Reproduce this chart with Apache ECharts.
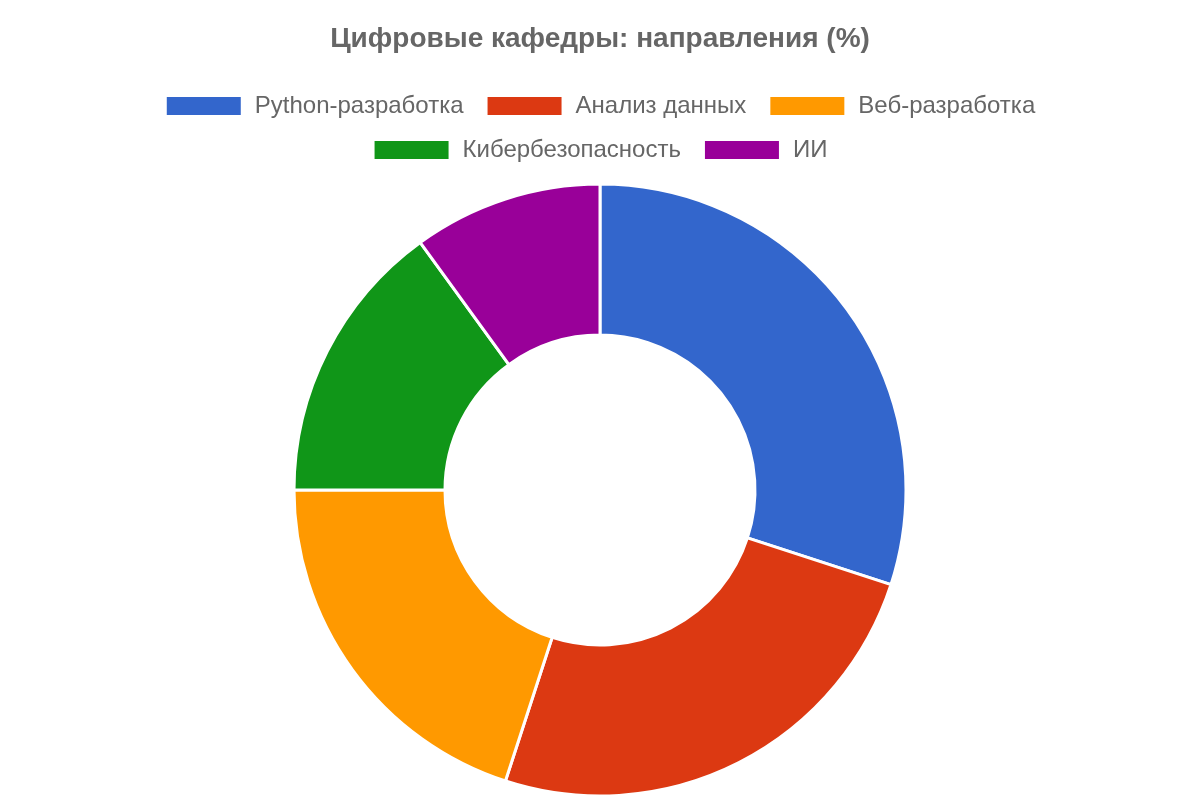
<!DOCTYPE html>
<html>
<head>
<meta charset="utf-8">
<script src="https://cdn.jsdelivr.net/npm/echarts@6/dist/echarts.min.js"></script>
<style>
  html, body { margin: 0; padding: 0; background: #fff; }
  #chart { width: 1200px; height: 800px; }
</style>
</head>
<body>
<div id="chart"></div>
<script>
var categories = ['Python-разработка', 'Анализ данных', 'Веб-разработка', 'Кибербезопасность', 'ИИ'];
var values = [30, 25, 20, 15, 10];
var colors = ['#3366CC', '#DC3912', '#FF9900', '#109618', '#990099'];

var legendText = {
    fontSize: 24,
    color: '#666666',
    padding: [0, 0, 0, 8],
    fontFamily: 'Liberation Sans, Arial, sans-serif'
};

var chart = echarts.init(document.getElementById('chart'));
chart.setOption({
    color: colors,
    title: {
        text: 'Цифровые кафедры: направления (%)',
        left: 'center',
        top: 20,
        textStyle: {
            fontSize: 28,
            fontWeight: 'bold',
            color: '#666666',
            fontFamily: 'Liberation Sans, Arial, sans-serif'
        }
    },
    legend: [{
        top: 89,
        left: 'center',
        itemWidth: 76,
        itemHeight: 20,
        itemGap: 22,
        icon: 'rect',
        textStyle: legendText,
        data: categories.slice(0, 3)
    }, {
        top: 133,
        left: 'center',
        itemWidth: 76,
        itemHeight: 20,
        itemGap: 22,
        icon: 'rect',
        textStyle: legendText,
        data: categories.slice(3)
    }],
    series: [{
        type: 'pie',
        center: [600, 490],
        radius: [155, 306],
        startAngle: 90,
        clockwise: true,
        label: { show: false },
        labelLine: { show: false },
        itemStyle: {
            borderColor: '#ffffff',
            borderWidth: 3
        },
        data: categories.map(function (name, i) {
            return { name: name, value: values[i] };
        })
    }]
});
</script>
</body>
</html>
